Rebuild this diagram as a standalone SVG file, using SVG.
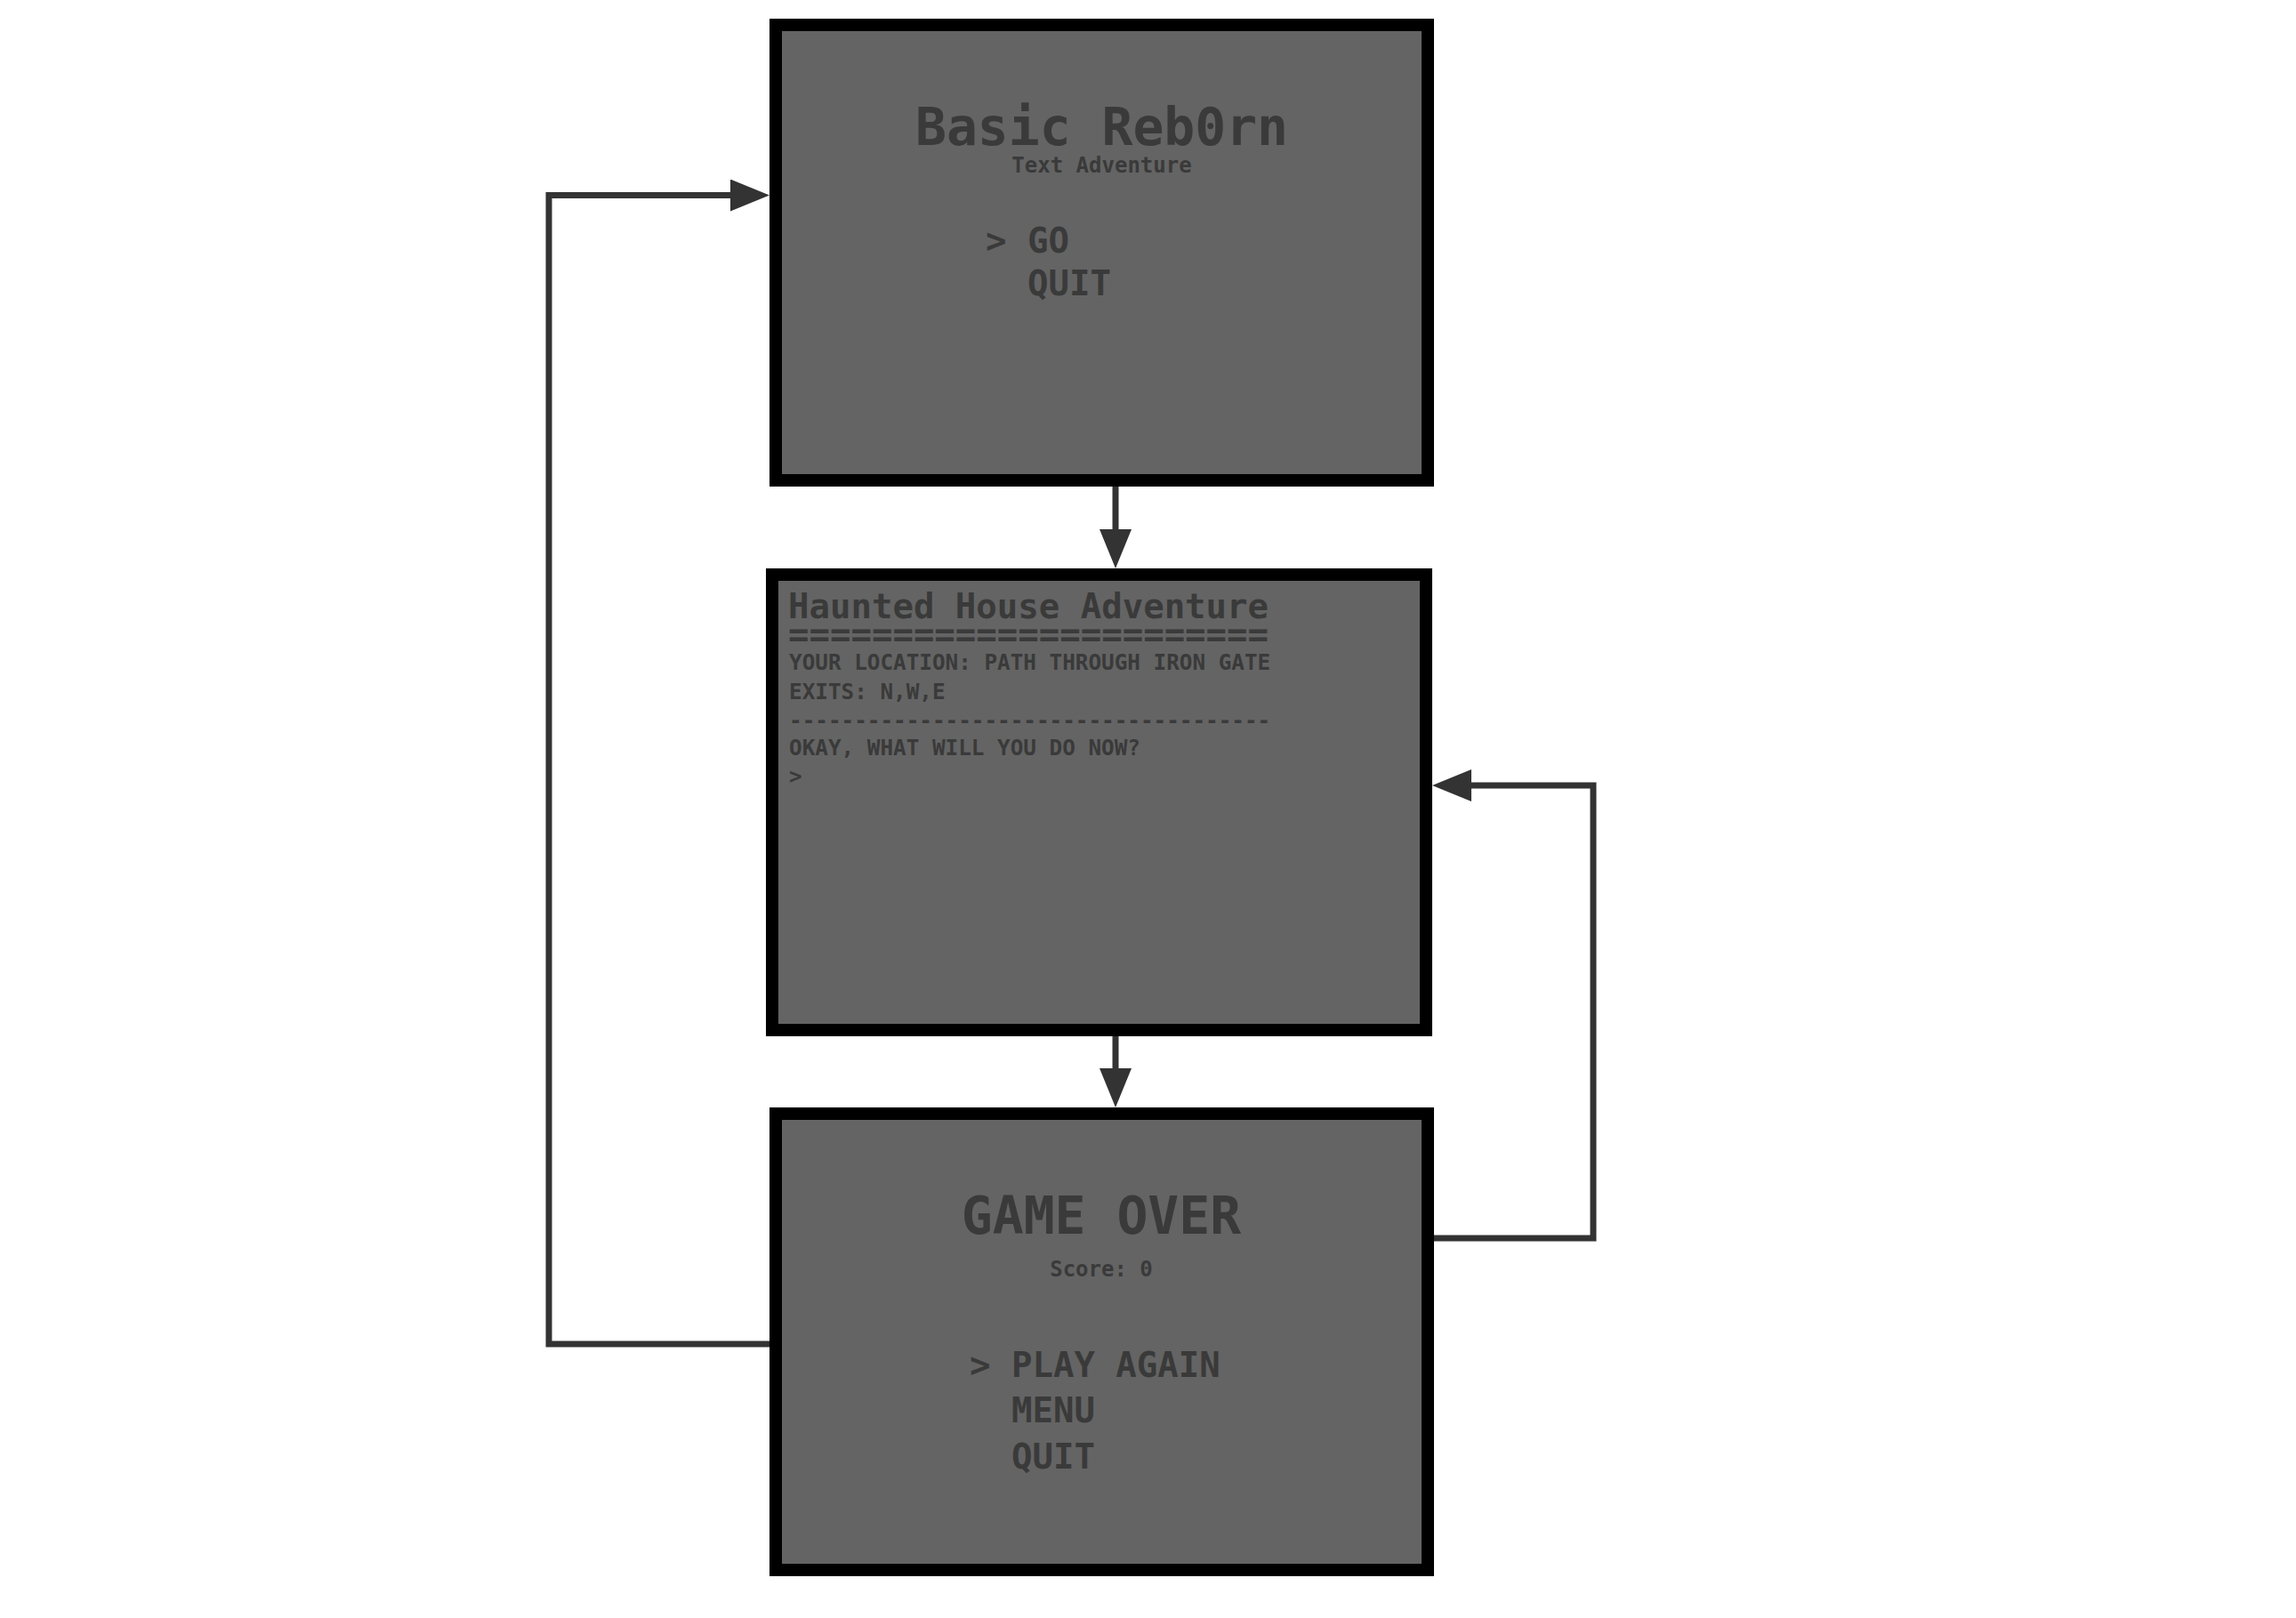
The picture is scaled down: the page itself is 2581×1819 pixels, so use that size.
<svg xmlns="http://www.w3.org/2000/svg" width="2581" height="1819" viewBox="0 0 2581 1819">
<style>
.box{fill:#646464;stroke:#000;stroke-width:14}
.t{font-family:"DejaVu Sans Mono","Liberation Mono",monospace;font-weight:bold;fill:#3a3a3a}
.c{text-anchor:middle}
.conn{fill:none;stroke:#333;stroke-width:7}
</style>
<defs>
<marker id="ah" markerUnits="userSpaceOnUse" markerWidth="44" markerHeight="36" refX="0" refY="18" orient="auto" viewBox="0 0 44 36">
<path d="M0,0 L44,18 L0,36 Z" fill="#333"/>
</marker>
</defs>
<rect width="2581" height="1819" fill="#fff"/>
<g id="connectors">
<path class="conn" d="M1254,547 V595" marker-end="url(#ah)"/>
<path class="conn" d="M1254,1165 V1201" marker-end="url(#ah)"/>
<path class="conn" d="M865,1511 H617 V219.5 H821" marker-end="url(#ah)"/>
<path class="conn" d="M1612,1392 H1791 V883 H1654" marker-end="url(#ah)"/>
</g>
<g id="menu">
<rect class="box" x="872" y="28" width="733" height="512"/>
<text class="t c" x="1238.5" y="163" font-size="58">Basic Reb0rn</text>
<text class="t c" x="1238.5" y="194" font-size="24">Text Adventure</text>
<text class="t" x="1108" y="283.5" font-size="39">&gt; GO</text>
<text class="t" x="1155" y="331.5" font-size="39">QUIT</text>
</g>
<g id="game">
<rect class="box" x="868" y="646" width="735" height="512"/>
<text class="t" x="886" y="695" font-size="39">Haunted House Adventure</text>
<text class="t" x="886" y="727" font-size="39">=======================</text>
<text class="t" x="887" y="753" font-size="24.3">YOUR LOCATION: PATH THROUGH IRON GATE</text>
<text class="t" x="887" y="785.5" font-size="24.3">EXITS: N,W,E</text>
<text class="t" x="887" y="817.5" font-size="24.3">-------------------------------------</text>
<text class="t" x="887" y="848.5" font-size="24.3">OKAY, WHAT WILL YOU DO NOW?</text>
<text class="t" x="887" y="881" font-size="24.3">&gt;</text>
</g>
<g id="gameover">
<rect class="box" x="872" y="1252" width="733" height="513"/>
<text class="t c" x="1238" y="1387" font-size="58">GAME OVER</text>
<text class="t c" x="1238" y="1434.5" font-size="24">Score: 0</text>
<text class="t" x="1090" y="1547.5" font-size="39">&gt; PLAY AGAIN</text>
<text class="t" x="1137" y="1599" font-size="39">MENU</text>
<text class="t" x="1137" y="1650.5" font-size="39">QUIT</text>
</g>
</svg>
